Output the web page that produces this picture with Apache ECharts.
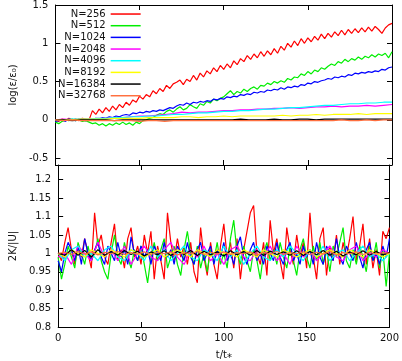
<!DOCTYPE html>
<html>
<head>
<meta charset="utf-8">
<script src="https://cdn.jsdelivr.net/npm/echarts@6/dist/echarts.min.js"></script>
<style>html,body{margin:0;padding:0;background:#fff}#c{width:402px;height:361px}</style>
</head>
<body>
<div id="c"></div>
<script>
const NAMES = ['N=256','N=512','N=1024','N=2048','N=4096','N=8192','N=16384','N=32768'];
const COLORS = ['#ff0000','#00ee00','#0000ff','#ff00ff','#00ffff','#ffff00','#000000','#ff7040'];

const T2 = [0,2,4,6,8,10,12,14,16,18,20,22,24,26,28,30,32,34,36,38,40,42,44,46,48,50,52,54,56,58,60,62,64,66,68,70,72,74,76,78,80,82,84,86,88,90,92,94,96,98,100,102,104,106,108,110,112,114,116,118,120,122,124,126,128,130,132,134,136,138,140,142,144,146,148,150,152,154,156,158,160,162,164,166,168,170,172,174,176,178,180,182,184,186,188,190,192,194,196,198,200];
const T5 = [0,5,10,15,20,25,30,35,40,45,50,55,60,65,70,75,80,85,90,95,100,105,110,115,120,125,130,135,140,145,150,155,160,165,170,175,180,185,190,195,200];
const T4 = [0,4,8,12,16,20,24,28,32,36,40,44,48,52,56,60,64,68,72,76,80,84,88,92,96,100,104,108,112,116,120,124,128,132,136,140,144,148,152,156,160,164,168,172,176,180,184,188,192,196,200];

// top panel: log(eps/eps0)
const topN256 = [0.00,-0.02,0.01,-0.01,0.02,0.00,0.01,-0.01,0.02,0.01,
 0.00,0.12,0.07,0.14,0.09,0.16,0.11,0.18,0.13,0.20,
 0.16,0.23,0.19,0.26,0.23,0.31,0.27,0.33,0.30,0.38,
 0.34,0.41,0.37,0.45,0.41,0.47,0.49,0.52,0.46,0.53,
 0.50,0.58,0.52,0.61,0.56,0.64,0.60,0.68,0.63,0.71,
 0.66,0.73,0.68,0.77,0.72,0.80,0.76,0.84,0.79,0.86,
 0.81,0.89,0.83,0.90,0.85,0.93,0.87,0.96,0.91,1.00,
 0.95,1.03,0.97,1.06,1.00,1.07,1.02,1.09,1.04,1.12,
 1.06,1.13,1.08,1.15,1.10,1.17,1.11,1.18,1.13,1.19,
 1.14,1.20,1.15,1.21,1.16,1.22,1.18,1.13,1.20,1.24,
 1.26];
const topN512 = [-0.03,-0.05,-0.02,0.00,-0.01,0.01,-0.01,0.00,-0.02,-0.01,
 -0.03,-0.05,-0.04,-0.07,-0.05,-0.08,-0.05,-0.07,-0.04,-0.06,
 -0.03,-0.06,-0.04,-0.07,-0.03,-0.05,-0.01,0.00,0.02,0.03,
 0.06,0.08,0.07,0.11,0.13,0.10,0.14,0.17,0.13,0.15,
 0.20,0.17,0.15,0.21,0.19,0.24,0.22,0.27,0.25,0.28,
 0.30,0.34,0.38,0.33,0.37,0.35,0.40,0.37,0.41,0.43,
 0.40,0.45,0.44,0.48,0.46,0.50,0.48,0.51,0.49,0.54,
 0.52,0.56,0.55,0.60,0.58,0.63,0.60,0.65,0.63,0.68,
 0.66,0.70,0.73,0.71,0.76,0.74,0.79,0.76,0.80,0.78,
 0.82,0.79,0.83,0.81,0.85,0.82,0.86,0.84,0.87,0.81,
 0.89];
const topN1024 = [-0.02,-0.01,0.00,-0.02,0.01,0.00,-0.01,0.01,0.00,-0.01,
 0.01,0.00,0.02,0.01,0.03,0.02,0.04,0.03,0.05,0.04,
 0.06,0.07,0.06,0.09,0.08,0.10,0.09,0.11,0.10,0.12,
 0.11,0.13,0.12,0.14,0.16,0.15,0.18,0.20,0.19,0.22,
 0.20,0.23,0.22,0.24,0.23,0.25,0.24,0.27,0.26,0.28,
 0.27,0.30,0.29,0.31,0.30,0.33,0.32,0.34,0.33,0.36,
 0.35,0.37,0.36,0.39,0.38,0.40,0.39,0.42,0.40,0.43,
 0.42,0.44,0.43,0.46,0.45,0.48,0.47,0.50,0.49,0.51,
 0.52,0.54,0.53,0.56,0.55,0.57,0.56,0.59,0.58,0.61,
 0.60,0.62,0.61,0.63,0.62,0.64,0.63,0.66,0.65,0.68,
 0.69];
const topN2048 = [0.00,0.01,0.00,0.01,0.01,0.02,0.02,0.03,0.03,0.04,
 0.05,0.05,0.06,0.07,0.08,0.10,0.09,0.10,0.10,0.11,
 0.12,0.12,0.13,0.13,0.14,0.14,0.15,0.15,0.16,0.15,
 0.16,0.17,0.17,0.18,0.17,0.18,0.18,0.19,0.18,0.19,
 0.20];
const topN4096 = [0.00,0.00,0.01,0.01,0.01,0.02,0.02,0.03,0.03,0.04,
 0.04,0.05,0.05,0.06,0.07,0.07,0.08,0.09,0.09,0.10,
 0.11,0.11,0.12,0.12,0.13,0.14,0.14,0.15,0.16,0.16,
 0.17,0.18,0.19,0.19,0.20,0.21,0.21,0.22,0.22,0.23,
 0.23];
const topN8192 = [0.00,0.00,0.00,0.01,0.01,0.01,0.01,0.02,0.02,0.02,
 0.02,0.03,0.03,0.03,0.03,0.04,0.04,0.03,0.04,0.04,
 0.05,0.04,0.05,0.05,0.05,0.05,0.05,0.06,0.05,0.06,
 0.06,0.07,0.06,0.07,0.07,0.07,0.08,0.07,0.08,0.08,
 0.08];
const topN16384 = [0.00,0.00,-0.01,0.00,0.00,0.00,0.00,-0.01,0.00,0.00,
 0.00,0.00,0.00,0.00,0.00,0.00,0.00,0.00,0.00,0.00,
 0.00,0.00,0.01,0.00,0.00,0.00,0.01,0.00,0.00,0.01,
 0.01,0.00,0.01,0.01,0.01,0.01,0.01,0.01,0.01,0.01,
 0.01];
const topN32768 = [0.00,-0.01,0.00,-0.01,-0.01,-0.01,-0.01,-0.01,-0.01,-0.01,
 -0.02,-0.01,-0.01,-0.02,-0.01,-0.01,-0.01,-0.01,-0.01,-0.01,
 -0.01,-0.01,-0.01,-0.01,-0.01,-0.01,-0.01,-0.01,-0.01,-0.01,
 -0.01,-0.01,-0.01,-0.01,0.00,-0.01,-0.01,0.00,-0.01,0.00,
 0.00];

// bottom panel: 2K/|U|
const botN256 = [1.00,0.98,1.03,1.07,1.01,0.97,1.02,0.99,1.04,1.00,
 0.96,1.11,1.02,1.05,0.99,0.97,1.03,1.08,0.98,1.01,
 0.96,1.04,1.07,0.99,1.02,0.97,1.05,1.00,1.06,0.93,
 1.02,0.98,0.93,1.11,1.03,0.98,1.04,0.99,1.02,0.97,
 1.03,0.95,0.92,1.07,0.99,0.94,1.03,0.97,0.93,1.02,
 1.08,0.99,1.03,0.96,1.04,0.93,1.01,1.06,1.11,1.13,
 1.00,0.97,1.03,0.94,1.09,1.00,1.04,0.98,0.93,1.07,
 1.01,0.97,1.05,0.99,1.03,0.96,1.11,0.99,0.93,1.04,
 1.07,0.94,1.02,0.98,1.05,0.97,1.03,0.99,1.04,1.10,
 0.98,1.02,1.08,0.97,1.04,0.96,1.01,0.94,1.06,1.04,
 1.07];
const botN512 = [0.99,0.93,0.97,1.02,0.99,0.96,1.03,1.00,0.97,1.02,
 0.98,1.00,1.04,0.98,0.95,0.93,1.00,1.05,0.99,0.97,
 1.03,0.99,0.96,1.01,0.98,1.02,0.97,0.92,0.99,1.03,
 0.98,1.01,1.04,0.96,0.99,1.02,0.97,0.94,1.01,1.06,
 1.00,0.97,1.02,0.96,1.00,0.95,1.01,0.98,1.03,0.97,
 1.00,0.96,1.04,1.09,1.00,0.97,1.02,0.98,0.95,1.01,
 0.98,0.93,1.00,1.03,0.98,1.01,0.97,1.03,0.99,0.96,
 1.02,0.98,0.94,1.01,1.04,0.99,0.96,1.02,0.98,1.03,
 0.97,1.01,0.95,1.02,0.99,1.03,1.07,0.98,0.96,1.01,
 0.97,1.02,0.99,0.95,1.02,0.98,1.03,0.96,1.01,0.91,
 1.00];
const botN1024 = [0.98,0.95,1.00,1.03,1.01,0.98,1.02,0.97,1.04,1.00,
 0.98,1.01,1.03,0.99,0.97,1.02,1.00,0.98,1.03,0.99,
 1.01,0.97,1.045,1.00,0.98,1.02,0.99,1.01,0.97,1.02,
 1.00,0.98,1.03,0.99,1.01,0.97,1.02,1.00,0.98,1.03,
 0.99,0.97,1.01,1.03,0.98,1.00,1.02,0.97,1.01,0.99,
 1.03,0.98,1.00,0.97,1.02,1.045,0.99,0.97,1.01,1.03,
 0.98,1.00,0.97,1.02,1.00,0.98,1.03,0.99,0.97,1.01,
 1.03,0.98,1.00,0.97,1.02,0.99,1.01,0.97,1.03,0.99,
 0.97,1.02,1.00,0.98,1.04,0.99,0.97,1.02,1.00,0.98,
 1.03,0.99,0.96,1.01,1.03,0.98,1.00,0.97,1.02,0.99,
 1.04];
const botN2048 = [0.99,1.00,0.97,1.02,1.00,0.98,1.03,0.99,1.01,0.98,
 1.02,0.97,1.00,1.02,0.99,0.98,1.01,1.03,0.99,0.97,
 1.01,0.99,1.02,0.98,1.00,0.97,1.01,1.02,0.99,0.98,
 1.01,0.99,1.02,0.98,1.00,0.97,1.02,0.99,1.01,0.98,
 1.00,1.02,0.99,0.98,1.01,1.02,0.98,1.00,0.99,1.01,
 1.00];
const botN4096 = [1.00,0.98,1.01,1.02,0.99,1.00,0.98,1.01,1.02,0.99,
 0.98,1.01,1.00,0.98,1.02,0.99,1.01,0.98,1.00,1.02,
 0.99,0.98,1.01,1.00,0.98,1.02,0.99,1.01,0.97,1.00,
 1.02,0.99,0.98,1.01,0.99,1.02,1.00,0.98,1.01,0.99,
 1.02,0.98,1.00,1.01,0.98,1.00,1.02,0.99,1.00,0.98,
 1.00];
const botN8192 = [1.00,0.99,1.01,1.00,0.99,1.01,1.00,0.99,1.01,1.00,
 0.99,1.01,1.00,0.99,1.00,1.01,0.99,1.00,1.01,1.00,
 0.99,1.01,1.00,0.99,1.01,1.00,1.00,0.99,1.01,1.00,
 0.99,1.01,1.00,0.99,1.01,1.00,0.99,1.00,1.01,0.99,
 1.00,1.01,1.00,0.99,1.01,1.00,0.99,1.01,1.00,0.99,
 1.00];
const botN16384 = [1.000,0.995,1.010,0.995,1.008,0.990,1.010,0.995,1.005,0.995,
 1.008,0.997,1.006,0.993,1.004,0.996,1.007,0.994,1.005,0.997,
 1.008,0.994,1.006,0.996,1.004,0.993,1.007,0.996,1.005,0.995,
 1.008,0.994,1.006,0.997,1.004,0.995,1.007,0.994,1.005,0.996,
 1.008,0.995,1.006,0.993,1.004,0.996,1.007,0.995,1.005,0.996,
 1.003];
const botN32768 = [1.000,1.003,0.997,1.005,0.998,1.004,0.996,1.003,0.999,1.005,
 0.997,1.002,0.998,1.004,0.997,1.003,0.999,1.004,0.996,1.002,
 0.999,1.005,0.997,1.003,0.998,1.004,0.997,1.002,0.999,1.004,
 0.996,1.003,0.998,1.005,0.997,1.002,0.999,1.004,0.997,1.003,
 0.998,1.005,0.996,1.002,0.999,1.004,0.997,1.003,0.998,1.002,
 1.000];

const X_TICKS = [0,50,100,150,200];
const TOP_TICKS = [-0.5,0,0.5,1,1.5];
const BOT_TICKS = [0.8,0.85,0.9,0.95,1,1.05,1.1,1.15,1.2];

const TOP_SETS = [[T2,topN256],[T2,topN512],[T2,topN1024],[T5,topN2048],[T5,topN4096],[T5,topN8192],[T5,topN16384],[T5,topN32768]];
const BOT_SETS = [[T2,botN256],[T2,botN512],[T2,botN1024],[T4,botN2048],[T4,botN4096],[T4,botN8192],[T4,botN16384],[T4,botN32768]];

function zip(t, v) { return t.map((x, i) => [x, v[i]]); }

const FONT = 'DejaVu Sans';
const TXT = '#111';
const lineC = {color: '#000', width: 1};

function xAx(grid, pos, labels, name) {
  return {
    type: 'value', gridIndex: grid, position: pos, min: 0, max: 200, interval: 50,
    axisLine: {show: true, onZero: false, lineStyle: lineC},
    axisTick: {show: true, inside: true, length: 5, lineStyle: lineC},
    axisLabel: {show: labels, margin: 6, fontFamily: FONT, fontSize: 10, color: TXT},
    splitLine: {show: false},
    name: name || '', nameLocation: 'middle', nameGap: 23,
    nameTextStyle: {fontFamily: FONT, fontSize: 10, color: TXT}
  };
}
function yAx(grid, pos, min, max, ticks, labels, name, gap) {
  return {
    type: 'value', gridIndex: grid, position: pos, min: min, max: max,
    axisLine: {show: true, onZero: false, lineStyle: lineC},
    axisTick: {show: true, inside: true, length: 5, lineStyle: lineC, customValues: ticks},
    axisLabel: {show: labels, margin: 7, fontFamily: FONT, fontSize: 10, color: TXT, customValues: ticks},
    splitLine: {show: false},
    name: name || '', nameLocation: 'middle', nameGap: gap || 30,
    nameTextStyle: {fontFamily: FONT, fontSize: 10, color: TXT}
  };
}

const series = [];
NAMES.forEach((n, i) => {
  series.push({
    name: n, type: 'line', xAxisIndex: 0, yAxisIndex: 0, data: zip(TOP_SETS[i][0], TOP_SETS[i][1]),
    symbol: 'none', lineStyle: {width: 1.2, color: COLORS[i]}, itemStyle: {color: COLORS[i]}, z: 2 + i * 0.01
  });
});
NAMES.forEach((n, i) => {
  series.push({
    name: n, type: 'line', xAxisIndex: 2, yAxisIndex: 2, data: zip(BOT_SETS[i][0], BOT_SETS[i][1]),
    symbol: 'none', lineStyle: {width: 1.2, color: COLORS[i]}, itemStyle: {color: COLORS[i]}, z: 2 + i * 0.01
  });
});

const chart = echarts.init(document.getElementById('c'), null, {renderer: 'canvas'});
chart.setOption({
  animation: false,
  backgroundColor: '#fff',
  grid: [
    {left: 54, right: 10, top: 4, height: 161},
    {left: 54, right: 10, top: 165, height: 162}
  ],
  xAxis: [
    xAx(0, 'bottom', false),
    xAx(0, 'top', false),
    xAx(1, 'bottom', true, 't/t\u204E'),
    xAx(1, 'top', false)
  ],
  yAxis: [
    yAx(0, 'left', -0.59, 1.5, TOP_TICKS, true, 'log(\u03B5/\u03B5\u2080)', 35),
    yAx(0, 'right', -0.59, 1.5, TOP_TICKS, false),
    yAx(1, 'left', 0.8, 1.24, BOT_TICKS, true, '2K/|U|', 40),
    yAx(1, 'right', 0.8, 1.24, BOT_TICKS, false)
  ],
  legend: {
    data: NAMES, orient: 'vertical', align: 'right', left: 58, top: 8.2, padding: 0,
    icon: 'rect', itemWidth: 30, itemHeight: 1.5, itemGap: 0,
    textStyle: {fontFamily: FONT, fontSize: 10, color: TXT, lineHeight: 11.67},
    selectedMode: false
  },
  series: series
});
</script>
</body>
</html>
